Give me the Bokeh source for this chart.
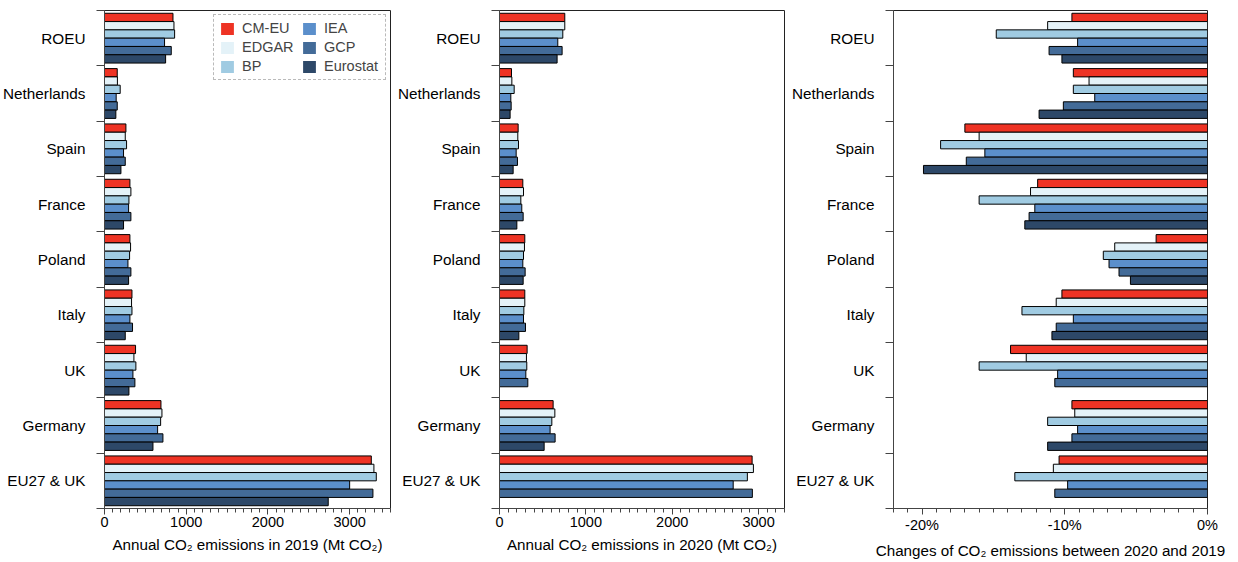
import bokeh.models
import bokeh.plotting
import bokeh.layouts
from bokeh.embed import file_html
from bokeh.resources import INLINE

# countries from top to bottom
countries = ["ROEU", "Netherlands", "Spain", "France", "Poland", "Italy", "UK", "Germany", "EU27 & UK"]
datasets = ["CM-EU", "EDGAR", "BP", "IEA", "GCP", "Eurostat"]
colors = ["#EE3324", "#E4F2F8", "#A0CBE2", "#5B8FCB", "#436B98", "#2D4868"]

# Annual emissions 2019 (Mt CO2)
cmeu_2019 = [838, 156, 262, 311, 311, 336, 380, 691, 3265]
edgar_2019 = [850, 158, 254, 323, 319, 331, 360, 703, 3297]
bp_2019 = [858, 192, 270, 299, 307, 336, 384, 687, 3326]
iea_2019 = [735, 143, 233, 295, 287, 311, 348, 650, 3000]
gcp_2019 = [817, 156, 254, 323, 323, 343, 372, 715, 3285]
eurostat_2019 = [748, 139, 201, 233, 295, 254, 299, 593, 2738]

# Annual emissions 2020 (Mt CO2)
cmeu_2020 = [756, 139, 216, 270, 293, 293, 320, 621, 2925]
edgar_2020 = [756, 143, 212, 278, 289, 293, 312, 641, 2940]
bp_2020 = [733, 170, 220, 247, 278, 282, 316, 606, 2870]
iea_2020 = [675, 131, 193, 258, 270, 278, 305, 586, 2706]
gcp_2020 = [725, 135, 208, 274, 297, 301, 328, 644, 2928]
eurostat_2020 = [667, 123, 158, 201, 274, 224, None, 517, None]

# Change 2020 vs 2019 (%)
cmeu_change = [-9.5, -9.4, -17.0, -11.9, -3.6, -10.2, -13.8, -9.5, -10.4]
edgar_change = [-11.2, -8.3, -16.0, -12.4, -6.5, -10.6, -12.7, -9.3, -10.8]
bp_change = [-14.8, -9.4, -18.7, -16.0, -7.3, -13.0, -16.0, -11.2, -13.5]
iea_change = [-9.1, -7.9, -15.6, -12.1, -6.9, -9.4, -10.5, -9.1, -9.8]
gcp_change = [-11.1, -10.1, -16.9, -12.5, -6.2, -10.6, -10.7, -9.5, -10.7]
eurostat_change = [-10.2, -11.8, -19.9, -12.8, -5.4, -10.9, None, -11.2, None]

FONT = "Liberation Sans"
BAR_H = 0.15
HEIGHT = 561


def bar_panel(series, x_range, major, minor, x_label, width, border_left,
              border_right, fmt="%d", legend=False):
    """One panel of grouped horizontal bars"""
    n = len(countries)
    p = bokeh.plotting.figure(
        width=width,
        height=HEIGHT,
        x_range=x_range,
        y_range=(-0.5, n - 0.5),
        output_backend="svg",
        toolbar_location=None,
        tools="",
        min_border_left=border_left,
        min_border_right=border_right,
        min_border_top=10,
        min_border_bottom=48,
    )

    for k, (vals, color) in enumerate(zip(series, colors)):
        ys, xs = [], []
        for i, v in enumerate(vals):
            if v is None:
                continue
            ys.append(n - 1 - i + (2.5 - k) * BAR_H)
            xs.append(v)
        src = bokeh.models.ColumnDataSource(data=dict(y=ys, x=xs))
        p.hbar(y="y", left=0, right="x", height=BAR_H, source=src,
               fill_color=color, line_color="black", line_width=1)

    if legend:
        # legend-only swatches without outline (nothing drawn in the plot)
        nan = float("nan")
        for name, color in zip(datasets, colors):
            p.quad(left=[nan], right=[nan], top=[nan], bottom=[nan],
                   fill_color=color, line_color=None, legend_label=name)
        leg = p.legend[0]
        leg.ncols = 2
        leg.location = "top_right"
        leg.margin = 4
        leg.padding = 5
        leg.spacing = 3
        leg.glyph_width = 16
        leg.glyph_height = 15
        leg.label_height = 14
        leg.label_width = 56
        leg.label_standoff = 7
        leg.label_text_font = FONT
        leg.label_text_font_size = "14.5px"
        leg.border_line_color = "#777777"
        leg.border_line_dash = "6 4"
        leg.border_line_width = 1.3

    p.xgrid.visible = False
    p.ygrid.visible = False
    p.outline_line_color = "#222222"

    # x axis
    p.xaxis.ticker = bokeh.models.FixedTicker(ticks=major, minor_ticks=minor)
    p.xaxis.formatter = bokeh.models.PrintfTickFormatter(format=fmt)
    p.xaxis.axis_label = x_label
    p.xaxis.axis_label_text_font = FONT
    p.xaxis.axis_label_text_font_size = "15.2px"
    p.xaxis.axis_label_text_font_style = "normal"
    p.xaxis.axis_label_standoff = 6
    p.xaxis.major_label_text_font = FONT
    p.xaxis.major_label_text_font_size = "14.5px"
    p.xaxis.major_label_standoff = 2
    p.xaxis.major_tick_in = 0
    p.xaxis.major_tick_out = 6
    p.xaxis.minor_tick_in = 0
    p.xaxis.minor_tick_out = 4

    # y axis: labels at group centres, ticks between groups
    p.yaxis.ticker = bokeh.models.FixedTicker(
        ticks=list(range(n)), minor_ticks=[i - 0.5 for i in range(n + 1)]
    )
    p.yaxis.major_label_overrides = {i: countries[n - 1 - i] for i in range(n)}
    p.yaxis.major_label_text_font = FONT
    p.yaxis.major_label_text_font_size = "15.3px"
    p.yaxis.major_label_standoff = 11
    p.yaxis.major_tick_in = 0
    p.yaxis.major_tick_out = 0
    p.yaxis.minor_tick_in = 0
    p.yaxis.minor_tick_out = 8

    for ax in (p.xaxis[0], p.yaxis[0]):
        ax.axis_line_color = "#444444"
        ax.major_tick_line_color = "#444444"
        ax.minor_tick_line_color = "#444444"
        ax.major_label_text_color = "black"
        ax.axis_label_text_color = "black"

    return p


p1 = bar_panel(
    [cmeu_2019, edgar_2019, bp_2019, iea_2019, gcp_2019, eurostat_2019],
    (0, 3500), [0, 1000, 2000, 3000], list(range(0, 3501, 100)),
    "Annual CO₂ emissions in 2019 (Mt CO₂)", 395, 104, 5, legend=True,
)
p2 = bar_panel(
    [cmeu_2020, edgar_2020, bp_2020, iea_2020, gcp_2020, eurostat_2020],
    (0, 3300), [0, 1000, 2000, 3000], list(range(0, 3301, 100)),
    "Annual CO₂ emissions in 2020 (Mt CO₂)", 394, 104, 5,
)
p3 = bar_panel(
    [cmeu_change, edgar_change, bp_change, iea_change, gcp_change, eurostat_change],
    (-22, 0), [-20, -10, 0], list(range(-22, 1)),
    "Changes of CO₂ emissions between 2020 and 2019", 442, 104, 24, fmt="%d%%",
)

p = bokeh.layouts.row(p1, p2, p3)

open("out.html", "w").write(file_html(p, INLINE))
